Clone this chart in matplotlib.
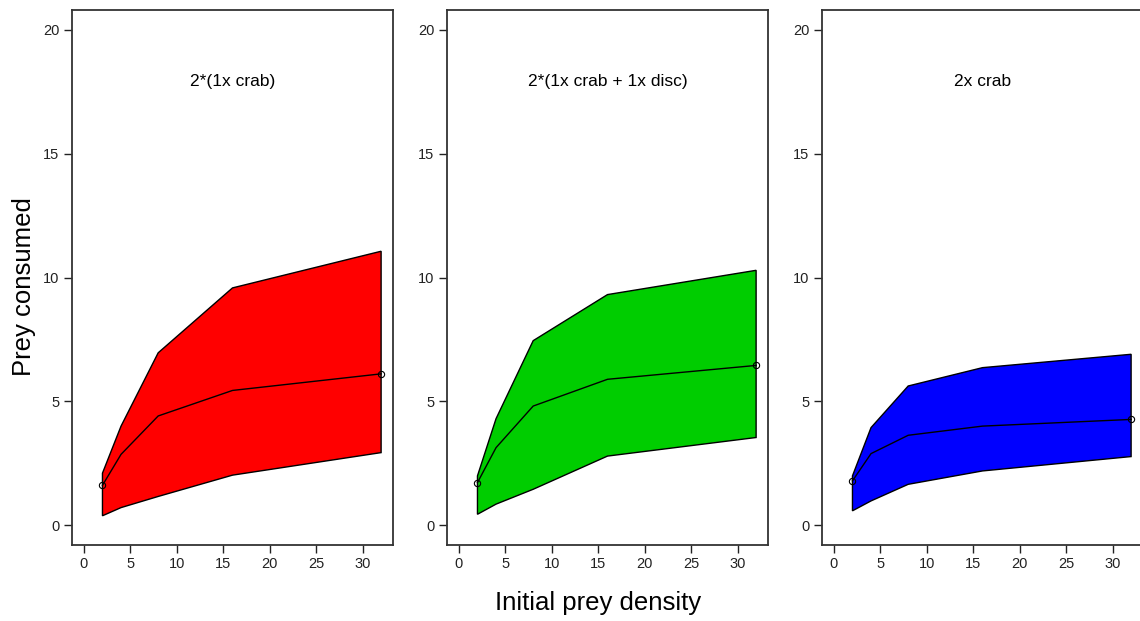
import matplotlib
matplotlib.use("Agg")
import matplotlib.pyplot as plt

plt.rcParams["font.family"] = ["Liberation Sans", "DejaVu Sans"]

# initial prey densities used in the functional response runs
density = [2, 4, 8, 16, 32]

titles = ["2*(1x crab)", "2*(1x crab + 1x disc)", "2x crab"]
colors = ["#ff0000", "#00cd00", "#0000ff"]

# fitted mean and upper/lower envelope of prey consumed
mean_crab = [1.61, 2.86, 4.41, 5.44, 6.11]
upper_crab = [2.10, 4.00, 6.96, 9.58, 11.06]
lower_crab = [0.38, 0.71, 1.16, 2.02, 2.93]

mean_disc = [1.72, 3.13, 4.81, 5.89, 6.45]
upper_disc = [1.99, 4.30, 7.45, 9.31, 10.29]
lower_disc = [0.44, 0.85, 1.45, 2.79, 3.54]

mean_2x = [1.79, 2.89, 3.63, 4.00, 4.27]
upper_2x = [1.99, 3.94, 5.62, 6.36, 6.90]
lower_2x = [0.58, 0.98, 1.65, 2.19, 2.77]

means = [mean_crab, mean_disc, mean_2x]
uppers = [upper_crab, upper_disc, upper_2x]
lowers = [lower_crab, lower_disc, lower_2x]

W, H = 1140, 621
fig = plt.figure(figsize=(W / 100, H / 100), dpi=100)

lefts = [72, 447, 822]
for i, left in enumerate(lefts):
    ax = fig.add_axes([left / W, (H - 545) / H, 321 / W, 535 / H])
    poly_x = density + density[::-1]
    poly_y = uppers[i] + lowers[i][::-1]
    ax.fill(poly_x, poly_y, facecolor=colors[i], edgecolor="black", linewidth=1.0)
    ax.plot(density, means[i], color="black", linewidth=1.0)
    ax.plot([density[0], density[-1]], [means[i][0], means[i][-1]], "o",
            markerfacecolor="none", markeredgecolor="black", markersize=4.5,
            markeredgewidth=0.8)
    ax.text(16, 17.9, titles[i], ha="center", va="center", fontsize=12.5)

    ax.set_xlim(-1.28, 33.28)
    ax.set_ylim(-0.8, 20.8)
    ax.set_xticks([0, 5, 10, 15, 20, 25, 30])
    ax.set_yticks([0, 5, 10, 15, 20])
    ax.tick_params(direction="out", length=6, width=1.0, labelsize=10.5,
                   colors="#222222", pad=3)
    for sp in ax.spines.values():
        sp.set_color("#333333")
        sp.set_linewidth(1.3)

fig.text(24 / W, 1 - 287 / H, "Prey consumed", rotation=90, ha="center",
         va="center", fontsize=18.5)
fig.text(598 / W, 1 - 603 / H, "Initial prey density", ha="center",
         va="center", fontsize=18.5)

fig.savefig("out.png", dpi=100)
